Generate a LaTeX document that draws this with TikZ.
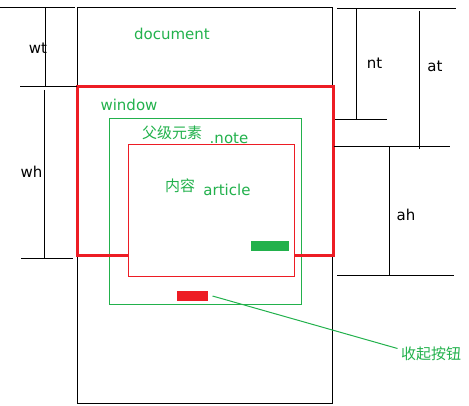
\documentclass[tikz,border=0pt]{standalone}
\usepackage{fontspec}
\setmainfont{DejaVu Sans}
\newfontfamily\cjk{Noto Sans CJK SC}
\definecolor{pgreen}{RGB}{34,177,76}
\definecolor{pred}{RGB}{237,28,36}
\begin{document}
\begin{tikzpicture}[x=1pt,y=-1pt,line width=1pt,
  font=\fontsize{15}{18}\selectfont,
  lbl/.style={inner sep=0pt,text=pgreen},
  dim/.style={inner sep=0pt},
  btn/.style={inner sep=0pt,minimum height=10pt}]
  \useasboundingbox (0,0) rectangle (469,406);
  % document, parent, window, article
  \draw (77,8) rectangle (332,403);
  \draw[pgreen] (109,119) rectangle (301,305);
  \draw[pred,line width=3pt] (77,87) rectangle (333,256);
  \draw[pred,fill=white] (128,145) rectangle (294,277);
  \node[btn,fill=pgreen,minimum width=38pt] (openbtn) at (270,246) {};
  \node[btn,fill=pred,minimum width=31pt] (foldbtn) at (192.5,296) {};
  % labels
  \node[lbl] (doc) at (172,34) {document};
  \node[lbl] (win) at (129,104.5) {window};
  \node[lbl] (parent) at (172,132.5) {\cjk 父级元素};
  \node[lbl] (note) at (229,138) {.note};
  \node[lbl] (content) at (180,186) {\cjk 内容};
  \node[lbl] (art) at (227,190) {article};
  \node[lbl] (fold) at (431,353.5) {\cjk 收起按钮};
  \draw[pgreen] ([xshift=4pt]foldbtn.east) -- ([xshift=-3pt,yshift=5pt]fold.west);
  % left dimensions
  \draw (0,8) -- (75,8);
  \draw (45,8) -- (45,87);
  \draw (20,87) -- (77,87);
  \draw (44,90) -- (44,258);
  \draw (21,259) -- (73,259);
  \node[dim] (wt) at (38,48.5) {wt};
  \node[dim] (wh) at (31.5,172) {wh};
  % right dimensions
  \draw (337,9) -- (456,9);
  \draw (356,9) -- (356,120);
  \draw (335,120) -- (387,120);
  \draw (419,11) -- (419,149);
  \draw (334,147) -- (450,147);
  \draw (389,147) -- (389,276);
  \draw (337,276) -- (454,276);
  \node[dim] (nt) at (374.5,63) {nt};
  \node[dim] (at) at (435,66.5) {at};
  \node[dim] (ah) at (406,214.5) {ah};
\end{tikzpicture}
\end{document}
